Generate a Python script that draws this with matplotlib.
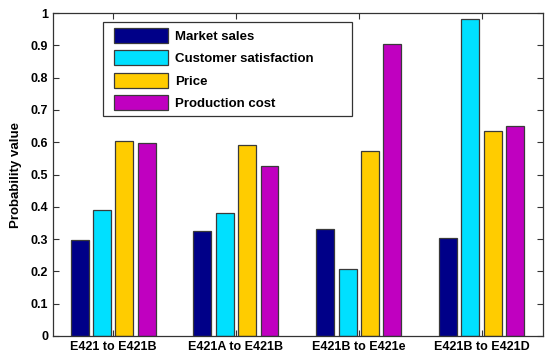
import matplotlib
matplotlib.use("Agg")
import matplotlib.pyplot as plt
from matplotlib.patches import Rectangle
import numpy as np

plt.rcParams['font.family'] = ['Liberation Sans', 'DejaVu Sans']

categories = ["E421 to E421B", "E421A to E421B", "E421B to E421e", "E421B to E421D"]
series_names = ["Market sales", "Customer satisfaction", "Price", "Production cost"]
market_sales = [0.297, 0.325, 0.330, 0.302]
customer_satisfaction = [0.390, 0.380, 0.208, 0.980]
price = [0.605, 0.590, 0.572, 0.634]
production_cost = [0.598, 0.527, 0.905, 0.650]
colors = ["#000088", "#00E0FF", "#FFCC00", "#C000C0"]

series = [market_sales, customer_satisfaction, price, production_cost]

W, H = 550, 360
ax_l, ax_r, ax_t, ax_b = 53, 543, 13, 336
fig = plt.figure(figsize=(W / 100, H / 100), dpi=100)
ax = fig.add_axes([ax_l / W, 1 - ax_b / H, (ax_r - ax_l) / W, (ax_b - ax_t) / H])
aw, ah = ax_r - ax_l, ax_b - ax_t

x = np.arange(1, len(categories) + 1)
step = 0.182
width = 0.146
for i, (vals, name, c) in enumerate(zip(series, series_names, colors)):
    ax.bar(x + (i - 1.5) * step, vals, width, color=c, edgecolor="#3a3a3a",
           linewidth=0.9, label=name, zorder=2)

ax.set_xlim(0.51, 4.5)
ax.set_ylim(0, 1)
ax.set_xticks(x)
ax.set_xticklabels(categories, fontweight="bold", fontsize=9)
ax.set_yticks(np.arange(0, 1.01, 0.1))
ax.set_yticklabels(["0", "0.1", "0.2", "0.3", "0.4", "0.5", "0.6", "0.7", "0.8", "0.9", "1"],
                   fontweight="bold", fontsize=9)
ax.tick_params(direction="in", top=True, right=True, length=4, width=0.8, color="#333333")
ax.set_ylabel("Probability value", fontweight="bold", fontsize=9.5, labelpad=6)
for s in ax.spines.values():
    s.set_color("#333333")
    s.set_linewidth(0.9)

# legend frame (box wider than its contents, as in the reference)
fx0, fy0, fx1, fy1 = 103, 22, 352, 116
frame = Rectangle(((fx0 - ax_l) / aw, 1 - (fy1 - ax_t) / ah), (fx1 - fx0) / aw, (fy1 - fy0) / ah,
                  transform=ax.transAxes, facecolor="white", edgecolor="#333333",
                  linewidth=0.9, zorder=4, clip_on=False)
ax.add_patch(frame)

fs = 9.5
hh = 1.35
descent_px = 0.35 * fs * 100 / 72 * (hh - 0.7)
leg = ax.legend(loc="upper left",
                bbox_to_anchor=((114 - ax_l) / aw, 1 - (31 - descent_px - ax_t) / ah),
                ncol=1, prop={"weight": "bold", "size": fs}, frameon=False,
                handlelength=4.1, handleheight=hh, borderpad=0, labelspacing=0.58,
                handletextpad=0.53, borderaxespad=0)
leg.set_zorder(5)

fig.savefig("out.png", dpi=100)
